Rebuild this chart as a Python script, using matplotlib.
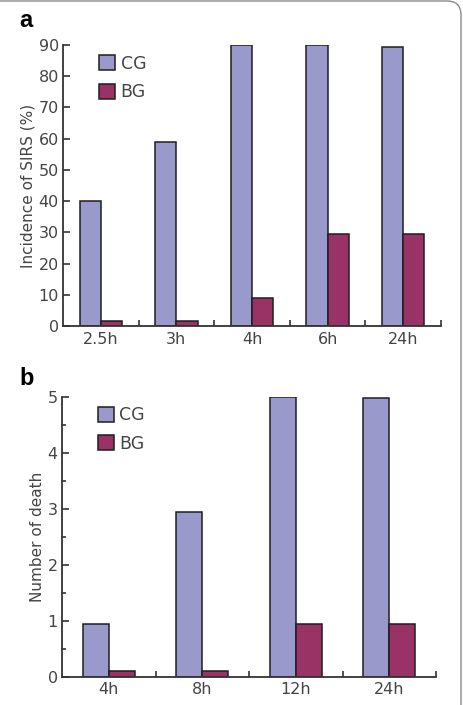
import numpy as np
import matplotlib
matplotlib.use("Agg")
import matplotlib.pyplot as plt
from matplotlib.patches import FancyBboxPatch

# panel a: incidence of SIRS (%)
times_a = ["2.5h", "3h", "4h", "6h", "24h"]
cg_a = [40, 59, 90, 90, 89.5]
bg_a = [1.5, 1.5, 9, 29.5, 29.5]

# panel b: number of death
times_b = ["4h", "8h", "12h", "24h"]
cg_b = [0.95, 2.95, 5.0, 4.97]
bg_b = [0.1, 0.1, 0.95, 0.95]

cg_color = "#9999cc"
bg_color = "#993366"
txt = "#444444"

W, H = 463, 705
fig = plt.figure(figsize=(W / 100, H / 100), dpi=100)

def box(l, r, top, bot):
    return [l / W, 1 - bot / H, (r - l) / W, (bot - top) / H]

def draw(ax, cats, cg, bg, ymax, major, minor, ylabel):
    x = np.arange(len(cats))
    w = 0.28
    ax.bar(x - w / 2, cg, w, color=cg_color, edgecolor="#1e1e1e", lw=1.1, label="CG")
    ax.bar(x + w / 2, bg, w, color=bg_color, edgecolor="#1e1e1e", lw=1.1, label="BG")
    ax.set_xlim(-0.5, len(cats) - 0.5)
    ax.set_ylim(0, ymax)
    for s in ["top", "right"]:
        ax.spines[s].set_visible(False)
    for s in ["left", "bottom"]:
        ax.spines[s].set_color("#333333")
        ax.spines[s].set_linewidth(1.3)
    ax.set_yticks(np.arange(0, ymax + 0.01, major))
    if minor:
        ax.set_yticks(np.arange(0, ymax + 0.01, minor), minor=True)
    ax.set_xticks(x)
    ax.set_xticklabels(cats)
    ax.set_xticks(np.arange(len(cats)) + 0.5, minor=True)
    ax.tick_params(axis="y", which="major", direction="in", length=5, width=1.2,
                   color="#333333", labelsize=11.5, labelcolor=txt, pad=3)
    ax.tick_params(axis="y", which="minor", direction="in", length=3, width=1.2, color="#333333")
    ax.tick_params(axis="x", which="major", length=0, labelsize=11.5, labelcolor=txt, pad=4)
    ax.tick_params(axis="x", which="minor", direction="in", length=4, width=1.2, color="#333333")
    ax.set_ylabel(ylabel, fontsize=11, color=txt, labelpad=2)
    ax.legend(loc="upper left", bbox_to_anchor=(0.095, 0.965), frameon=False,
              fontsize=12.5, handlelength=0.95, handleheight=0.95, handletextpad=0.3,
              labelspacing=0.6, borderpad=0, borderaxespad=0, labelcolor=txt)

ax1 = fig.add_axes(box(63, 441, 45, 326))
draw(ax1, times_a, cg_a, bg_a, 90, 10, None, "Incidence of SIRS (%)")

ax2 = fig.add_axes(box(62, 436, 396.7, 676.7))
draw(ax2, times_b, cg_b, bg_b, 5, 1, 0.5, "Number of death")

# panel letters
fig.text(19 / W, 1 - 27 / H, "a", fontsize=17, fontweight="bold",
         family="Liberation Sans", va="baseline", ha="left")
fig.text(19 / W, 1 - 385 / H, "b", fontsize=17, fontweight="bold",
         family="Liberation Sans", va="baseline", ha="left")

frame = FancyBboxPatch((-20, -20), 481, 724, boxstyle="round,pad=0,rounding_size=14",
                       transform=None, fill=False, edgecolor="#8a8a8a", lw=1.0)
fig.patches.append(frame)

fig.savefig("out.png", dpi=100)
